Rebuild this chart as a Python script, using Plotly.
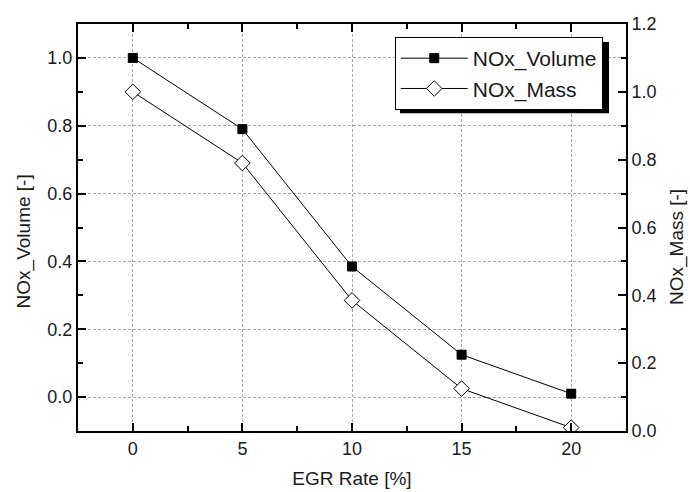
import plotly.graph_objects as go

egr_rate = [0, 5, 10, 15, 20]
nox_volume = [1.0, 0.79, 0.385, 0.125, 0.01]
nox_mass = [1.0, 0.79, 0.385, 0.125, 0.01]

FONT = "Arial, Liberation Sans, sans-serif"
TXT = "#1a1a1a"

fig = go.Figure()
fig.add_trace(go.Scatter(
    x=egr_rate, y=nox_volume, name="NOx_Volume", mode="lines+markers",
    line=dict(color="black", width=1),
    marker=dict(symbol="square", size=9, color="black", line=dict(color="black", width=1)),
    yaxis="y"))
fig.add_trace(go.Scatter(
    x=egr_rate, y=nox_mass, name="NOx_Mass", mode="lines+markers",
    line=dict(color="black", width=1),
    marker=dict(symbol="diamond", size=12, color="white", line=dict(color="black", width=1)),
    yaxis="y2"))

axis_common = dict(
    showline=True, linecolor="black", linewidth=2,
    ticks="inside", ticklen=8, tickwidth=2, tickcolor="black",
    tickfont=dict(family=FONT, size=18, color=TXT),
    zeroline=False, automargin=False,
)
minor_common = dict(ticks="inside", ticklen=5, tickwidth=2, tickcolor="black", showgrid=False)
title_font = dict(family=FONT, size=19, color=TXT)

fig.update_layout(
    width=690, height=492,
    margin=dict(l=78, r=64, t=24, b=61),
    paper_bgcolor="white", plot_bgcolor="white",
    font=dict(family=FONT, size=18, color=TXT),
    showlegend=True,
    legend=dict(x=0.578, y=0.968, xanchor="left", yanchor="top",
                bgcolor="white", bordercolor="black", borderwidth=1,
                font=dict(family=FONT, size=21, color=TXT),
                tracegroupgap=0, itemwidth=67),
    xaxis=dict(**axis_common, range=[-2.5, 22.5], tick0=0, dtick=5, mirror="ticks",
               showgrid=True, gridcolor="#aaaaaa", gridwidth=1, griddash="3px,2px",
               minor=dict(**minor_common, dtick=2.5, tick0=0),
               title=dict(text="EGR Rate [%]", font=title_font, standoff=14)),
    yaxis=dict(**axis_common, range=[-0.1, 1.1], tick0=0, dtick=0.2, tickformat=".1f",
               showgrid=True, gridcolor="#aaaaaa", gridwidth=1, griddash="3px,2px",
               minor=dict(**minor_common, dtick=0.1, tick0=0)),
    yaxis2=dict(**axis_common, range=[0, 1.2], tick0=0, dtick=0.2, tickformat=".1f",
                overlaying="y", side="right", showgrid=False,
                minor=dict(**minor_common, dtick=0.1, tick0=0)),
    annotations=[
        dict(text="NOx_Volume [-]", xref="paper", yref="paper", x=-0.0995, y=0.467,
             xanchor="center", yanchor="middle", textangle=-90, showarrow=False, font=title_font),
        dict(text="NOx_Mass [-]", xref="paper", yref="paper", x=1.093, y=0.452,
             xanchor="center", yanchor="middle", textangle=-90, showarrow=False, font=title_font),
    ],
    shapes=[dict(type="rect", xref="paper", yref="paper",
                 x0=0.5876, x1=0.969, y0=0.781, y1=0.956,
                 fillcolor="black", line=dict(width=0), layer="above")],
)

fig.write_html("out.html")
